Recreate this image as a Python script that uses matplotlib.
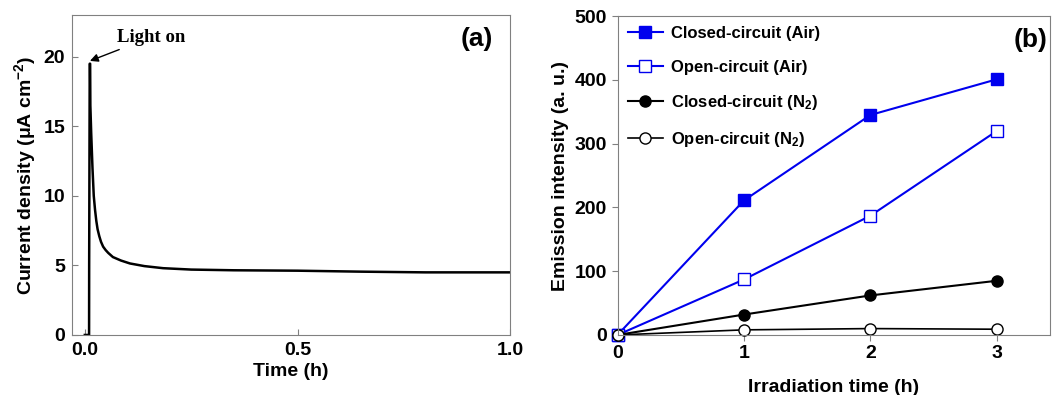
import matplotlib
matplotlib.use("Agg")
import matplotlib.pyplot as plt

# panel (a): photocurrent vs time
time_h = [0.0, 0.010, 0.0102, 0.0115, 0.0125, 0.013, 0.015, 0.018, 0.021, 0.024, 0.027,
          0.030, 0.034, 0.038, 0.043, 0.049, 0.055, 0.066, 0.085, 0.106, 0.14, 0.184, 0.25,
          0.35, 0.5, 0.65, 0.8, 0.9, 1.0]
current = [0, 0, 5.0, 19.5, 19.5, 16.5, 14.5, 12.0, 10.0, 9.0, 8.2,
           7.6, 7.1, 6.7, 6.35, 6.1, 5.9, 5.6, 5.35, 5.14, 4.95, 4.8, 4.7,
           4.65, 4.62, 4.55, 4.5, 4.5, 4.5]

# panel (b): emission intensity vs irradiation time
irr_time = [0, 1, 2, 3]
closed_air = [0, 211, 345, 401]
open_air = [0, 87, 187, 320]
closed_n2 = [0, 32, 62, 85]
open_n2 = [0, 8, 10, 9]

plt.rcParams['font.family'] = ['Liberation Sans', 'DejaVu Sans']
plt.rcParams['font.weight'] = 'bold'
plt.rcParams['mathtext.fontset'] = 'custom'
plt.rcParams['mathtext.rm'] = 'Liberation Sans:bold'
plt.rcParams['mathtext.bf'] = 'Liberation Sans:bold'
plt.rcParams['mathtext.it'] = 'Liberation Sans:bold'
plt.rcParams['mathtext.default'] = 'bf'

fig = plt.figure(figsize=(10.52, 3.95), dpi=100)
ax1 = fig.add_axes([0.0685, 0.152, 0.4165, 0.810])
ax2 = fig.add_axes([0.587, 0.152, 0.411, 0.807])

ax1.plot(time_h, current, color="black", lw=1.8)
ax1.set_xlim(-0.03, 1.0)
ax1.set_ylim(0, 23)
ax1.set_xticks([0.0, 0.5, 1.0])
ax1.set_xticklabels(["0.0", "0.5", "1.0"])
ax1.set_yticks([0, 5, 10, 15, 20])
ax1.tick_params(direction="in", labelsize=14, length=4, color="gray", pad=5)
ax1.set_xlabel("Time (h)", fontsize=14, fontweight="bold", labelpad=3)
ax1.set_ylabel(r"Current density (μA cm$^{-2}$)", fontsize=14, fontweight="bold")
ax1.text(0.96, 0.925, "(a)", transform=ax1.transAxes, ha="right", va="center",
         fontsize=19, fontweight="bold")
ax1.annotate("Light on", xy=(0.012, 19.7), xytext=(0.075, 21.4),
             fontsize=13.5, fontweight="bold", family="Liberation Serif", va="center",
             arrowprops=dict(arrowstyle="-|>", color="black", lw=1.0,
                             shrinkA=2, shrinkB=0, mutation_scale=12))
for s in ax1.spines.values():
    s.set_color("gray")

ax2.plot(irr_time, closed_air, "-s", color="#0000ee", mfc="#0000ee", mec="#0000ee",
         ms=8, lw=1.5, label="Closed-circuit (Air)", clip_on=False)
ax2.plot(irr_time, open_air, "-s", color="#0000ee", mfc="white", mec="#0000ee",
         ms=8, lw=1.5, label="Open-circuit (Air)", clip_on=False)
ax2.plot(irr_time, closed_n2, "-o", color="black", mfc="black", mec="black",
         ms=8, lw=1.5, label=r"Closed-circuit (N$_2$)", clip_on=False)
ax2.plot(irr_time, open_n2, "-o", color="black", mfc="white", mec="black",
         ms=8, lw=1.2, label=r"Open-circuit (N$_2$)", clip_on=False)
ax2.set_xlim(0, 3.42)
ax2.set_ylim(0, 500)
ax2.set_xticks([0, 1, 2, 3])
ax2.set_yticks([0, 100, 200, 300, 400, 500])
ax2.tick_params(direction="out", labelsize=14, length=4, color="gray")
ax2.set_xlabel("Irradiation time (h)", fontsize=14, fontweight="bold", labelpad=12)
ax2.set_ylabel("Emission intensity (a. u.)", fontsize=14, fontweight="bold")
ax2.text(0.995, 0.925, "(b)", transform=ax2.transAxes, ha="right", va="center",
         fontsize=19, fontweight="bold")
leg = ax2.legend(loc="upper left", frameon=False, fontsize=12, handlelength=2.1,
                 labelspacing=1.1, borderaxespad=0.2, handletextpad=0.5)
for s in ax2.spines.values():
    s.set_color("gray")

fig.savefig("out.png", dpi=100)
